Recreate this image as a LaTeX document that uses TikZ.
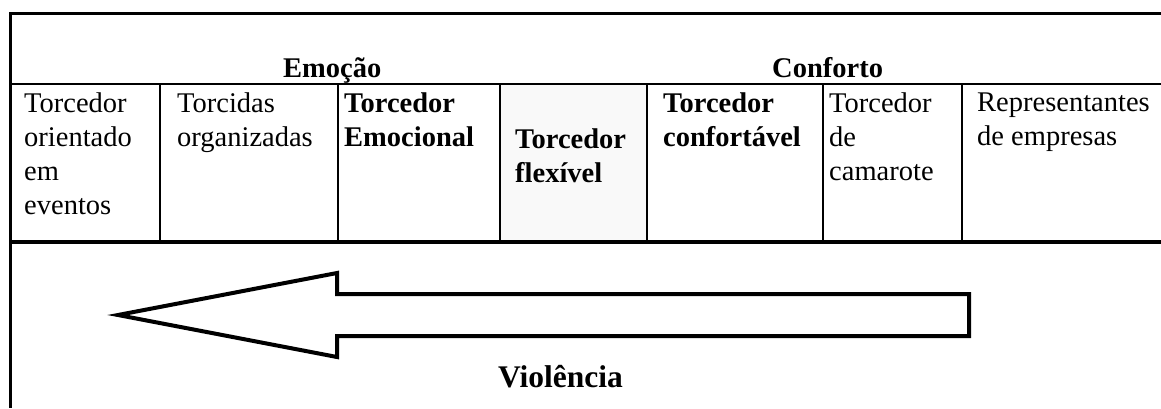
\documentclass[tikz,border=0pt]{standalone}
\usepackage{fontspec}
\setmainfont{Liberation Serif}
\begin{document}
\begin{tikzpicture}[x=1pt, y=-1pt,
    txt/.style={anchor=north west, inner sep=0pt, align=left,
        font=\fontsize{28.5}{34}\selectfont},
    txtb/.style={txt, font=\fontsize{28.5}{34}\selectfont\bfseries},
    rule/.style={draw=black, line width=2.5pt}]
    \useasboundingbox (0,0) rectangle (1161,408);
    \def\hy{84}   % header rule
    \def\by{242}  % bottom rule
    \def\ty{92.5} % top of first text line
    \fill [gray!5] (500,\hy) rectangle (647,\by); % flexible fan
    % frame
    \draw [rule, line width=3pt] (1161,13) -- (10,13) -- (10,408);
    \draw [rule] (10,\hy) -- (1161,\hy);
    \draw [rule, line width=4pt] (10,\by) -- (1161,\by);
    \foreach \cx in {160,338,500,647,823,962}
        \draw [rule] (\cx,\hy) -- (\cx,\by);
    % headings
    \node [txtb, anchor=base west] (emocao) at (283,77) {Emoção};
    \node [txtb, anchor=base west] (conforto) at (772,77) {Conforto};
    % cells
    \node [txt] (orientado) at (24,\ty) {Torcedor\\orientado\\em\\eventos};
    \node [txt] (organizadas) at (177,\ty) {Torcidas\\organizadas};
    \node [txtb] (emocional) at (344,\ty) {Torcedor\\Emocional};
    \node [txtb] (flexivel) at (515,\ty+36) {Torcedor\\flexível};
    \node [txtb] (confortavel) at (663,\ty) {Torcedor\\confortável};
    \node [txt] (camarote) at (829,\ty) {Torcedor\\de\\camarote};
    \node [txt] (empresas) at (977,\ty) {Representantes\\de empresas};
    % arrow
    \draw [line width=4pt, fill=white, line join=miter]
        (118,315) -- (337,273) -- (337,294) -- (969,294)
        -- (969,336) -- (337,336) -- (337,357) -- cycle;
    \node [txtb, anchor=base, font=\fontsize{31.5}{36}\selectfont\bfseries]
        (violencia) at (560.5,387) {Violência};
\end{tikzpicture}
\end{document}
